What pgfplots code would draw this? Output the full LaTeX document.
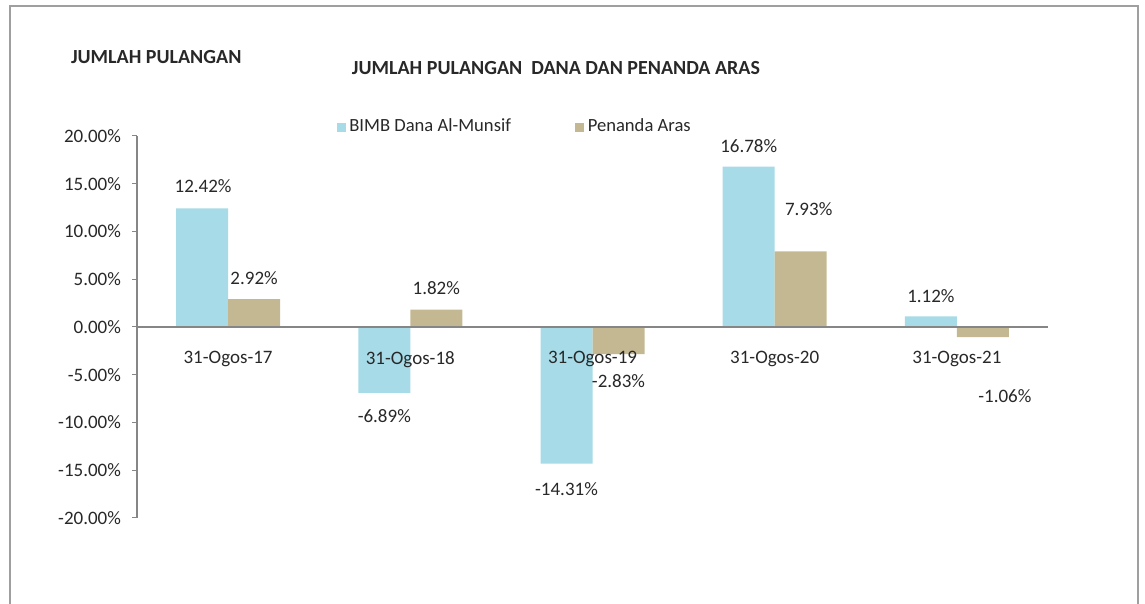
\documentclass[border=0pt]{standalone}
\usepackage{pgfplots}
\pgfplotsset{compat=1.18}
\usepackage{pgfplotstable}
\usepackage{fontspec}
\setmainfont{Carlito}
\definecolor{bimbblue}{RGB}{166,219,231}
\definecolor{tan}{RGB}{196,184,146}
\definecolor{axisgray}{RGB}{134,134,134}
\definecolor{txt}{RGB}{40,40,40}

\pgfplotstableread{
x y dx dy
0 12.42 0.5 11
1 -6.89 0 -11.5
2 -14.31 0 -12.5
3 16.78 0 10.5
4 1.12 0 10
}\bimb

\pgfplotstableread{
x y dx dy
0 2.92 0 10.5
1 1.82 0 11
2 -2.83 0 -13.5
3 7.93 4 21
4 -1.06 11 -29.5
}\penanda

\begin{document}
\begin{tikzpicture}
\path[use as bounding box] (0,0) rectangle (572.5pt,302pt);
\draw[gray!75, line width=0.7pt] (5pt,-2pt) -- (5pt,299pt) -- (569pt,299pt) -- (569pt,-2pt);
\node[font=\bfseries\fontsize{10}{12}\selectfont, text=txt, anchor=west] at (32pt,273.5pt) {JUMLAH PULANGAN};
\node[font=\bfseries\fontsize{10}{12}\selectfont, text=txt] at (278pt,268pt) {JUMLAH PULANGAN\ \ DANA DAN PENANDA ARAS};
\begin{axis}[
  at={(68.5pt,43pt)}, anchor=south west,
  scale only axis, width=455.5pt, height=191pt,
  xmin=-0.5, xmax=4.5, ymin=-20, ymax=20,
  axis on top,
  axis x line*=middle, axis y line*=left,
  axis line style={axisgray, line width=0.6pt},
  xtick={0,1,2,3,4},
  xticklabels={31-Ogos-17,31-Ogos-18,31-Ogos-19,31-Ogos-20,31-Ogos-21},
  x tick style={draw=none},
  minor xtick={-0.5,0.5,1.5,2.5,3.5,4.5},
  minor x tick style={axisgray, line width=0.5pt},
  minor tick length=2.5pt,
  xtick align=outside,
  ytick={-20,-15,...,20},
  ytick align=outside,
  y tick style={axisgray, line width=0.5pt},
  major tick length=2.5pt,
  yticklabel={\pgfmathprintnumber[fixed,fixed zerofill,precision=2,assume math mode=true]{\tick}\%},
  ticklabel style={font=\fontsize{9.5}{11}\selectfont, text=txt},
  xticklabel style={yshift=-6pt},
  yticklabel style={xshift=-2pt},
  ybar=0pt, bar width=26pt,
  legend style={at={(0.212,1.0236)}, anchor=west, draw=none, fill=none,
    legend columns=2, font=\fontsize{9.3}{11}\selectfont, text=txt,
    /tikz/every even column/.append style={column sep=30pt}},
  nodes near coords={\pgfmathprintnumber[fixed,fixed zerofill,precision=2,assume math mode=true]{\pgfplotspointmeta}\%},
  nodes near coords style={font=\fontsize{9.5}{11}\selectfont, text=txt},
  clip=false,
]
\addplot[forget plot, draw=none, fill=bimbblue, bar shift=-13pt,
  visualization depends on={\thisrow{dx}\as\dx},
  visualization depends on={\thisrow{dy}\as\dy},
  every node near coord/.append style={anchor=center, xshift=\dx pt, yshift=\dy pt}]
  table[x=x,y=y] {\bimb};
\addplot[forget plot, fill=tan, draw=none, bar shift=13pt,
  visualization depends on={\thisrow{dx}\as\dx},
  visualization depends on={\thisrow{dy}\as\dy},
  every node near coord/.append style={anchor=center, xshift=\dx pt, yshift=\dy pt}]
  table[x=x,y=y] {\penanda};
\addlegendimage{legend image code/.code={\fill[bimbblue] (0pt,-2pt) rectangle (4pt,2pt);}}
\addlegendentry{BIMB Dana Al-Munsif}
\addlegendimage{legend image code/.code={\fill[tan] (0pt,-2pt) rectangle (4pt,2pt);}}
\addlegendentry{Penanda Aras}
\end{axis}
\end{tikzpicture}
\end{document}
